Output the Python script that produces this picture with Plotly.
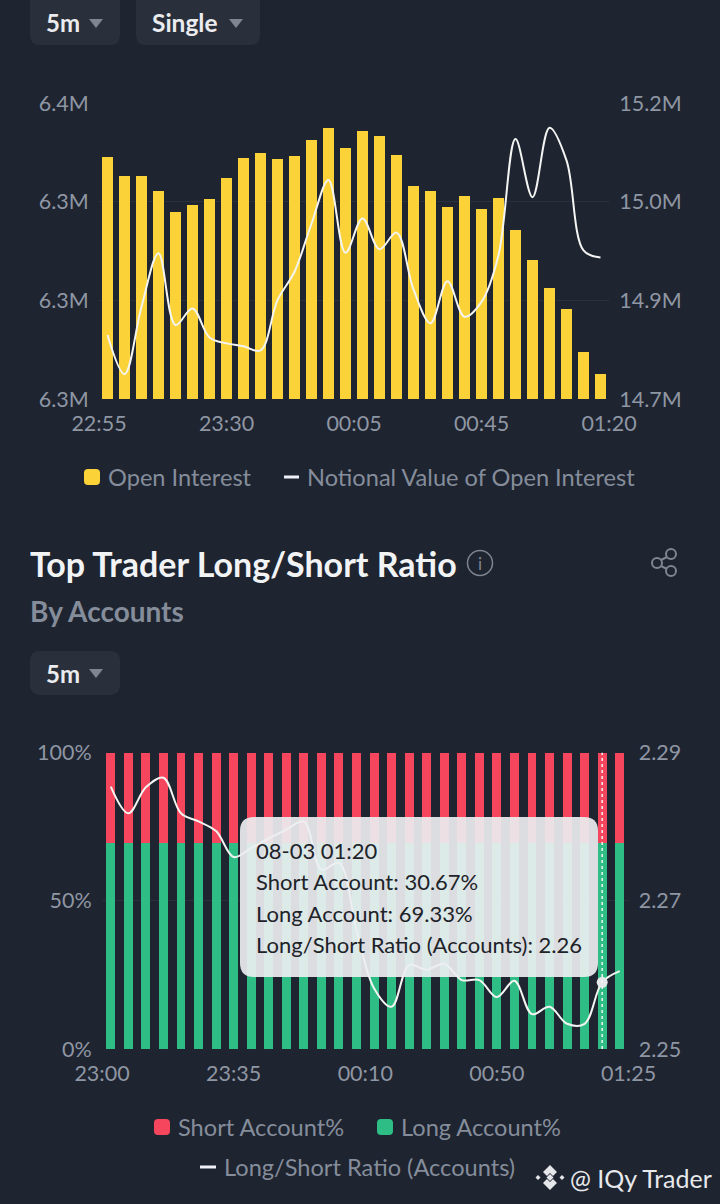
import plotly.graph_objects as go

# Open Interest chart
oi_ticks = ["22:55", "23:30", "00:05", "00:45", "01:20"]
oi_tick_pos = [-0.5, 7, 14.5, 22, 29.5]
open_interest = [6.3437, 6.3379, 6.3377, 6.3332, 6.3268, 6.3291, 6.3309, 6.3373, 6.3432, 6.3449,
                 6.3430, 6.3440, 6.3489, 6.3524, 6.3462, 6.3515, 6.3499, 6.3441, 6.3348, 6.3331,
                 6.3285, 6.3316, 6.3277, 6.3311, 6.3215, 6.3124, 6.3038, 6.2975, 6.2842, 6.2775]
notional = [14.808, 14.742, 14.856, 14.946, 14.825, 14.853, 14.804, 14.794, 14.789, 14.782,
            14.867, 14.915, 14.996, 15.070, 14.947, 15.005, 14.953, 14.981, 14.885, 14.828,
            14.899, 14.839, 14.864, 14.943, 15.139, 15.041, 15.158, 15.103, 14.951, 14.939]
oi_left_ticks = [6.27, 6.30, 6.33, 6.36]
oi_left_text = ["6.3M", "6.3M", "6.3M", "6.4M"]
oi_right_ticks = [14.7, 14.867, 15.033, 15.2]
oi_right_text = ["14.7M", "14.9M", "15.0M", "15.2M"]

# Top trader ratio chart
ls_ticks = ["23:00", "23:35", "00:10", "00:50", "01:25"]
ls_tick_pos = [-0.5, 7, 14.5, 22, 29.5]
long_pct = [69.4] * 28 + [69.33, 69.33]
short_pct = [30.6] * 28 + [30.67, 30.67]
ratio = [2.2854, 2.2818, 2.2853, 2.2866, 2.2818, 2.2807, 2.2794, 2.2759, 2.2771, 2.2784,
         2.2796, 2.2807, 2.2742, 2.2751, 2.2661, 2.2582, 2.2557, 2.2613, 2.2607, 2.2615,
         2.2593, 2.2593, 2.2570, 2.2592, 2.2547, 2.2557, 2.2534, 2.2534, 2.2590, 2.2605]
pct_ticks = [0, 50, 100]
pct_text = ["0%", "50%", "100%"]
ratio_ticks = [2.25, 2.27, 2.29]
ratio_text = ["2.25", "2.27", "2.29"]
hover_idx = 28
tooltip_lines = ["08-03 01:20", "Short Account: 30.67%", "Long Account: 69.33%",
                 "Long/Short Ratio (Accounts): 2.26"]

BG = "#1E2430"
BTN = "#2A303B"
GRID = "#2B313C"
TICK = "#8F96A3"
LEG = "#858D9B"
YELLOW = "#FBD338"
RED = "#F6465D"
GREEN = "#2EBD85"
LINE = "#F4F5F2"
FONT = "Lato"

W, H = 720, 1204


def px(x):
    return x / W


def py(y):
    return 1 - y / H


def rrect(x0, y0, x1, y1, r):
    # rounded box, pixel values turned into paper fractions
    pts = [("M", x0 + r, y0), ("L", x1 - r, y0), ("Q", x1, y0, x1, y0 + r), ("L", x1, y1 - r),
           ("Q", x1, y1, x1 - r, y1), ("L", x0 + r, y1), ("Q", x0, y1, x0, y1 - r),
           ("L", x0, y0 + r), ("Q", x0, y0, x0 + r, y0)]
    out = ""
    for p in pts:
        coords = p[1:]
        txt = [f"{px(coords[i]):.5f},{py(coords[i + 1]):.5f}" for i in range(0, len(coords), 2)]
        out += p[0] + " ".join(txt) + " "
    return out + "Z"


def poly(points):
    return "M" + " L".join(f"{px(a):.5f},{py(b):.5f}" for a, b in points) + " Z"


fig = go.Figure()

idx = list(range(len(open_interest)))

fig.add_trace(go.Bar(x=idx, y=open_interest, width=0.63, marker=dict(color=YELLOW, line_width=0),
                     xaxis="x", yaxis="y", showlegend=False))
fig.add_trace(go.Scatter(x=idx, y=notional, mode="lines", xaxis="x", yaxis="y2", showlegend=False,
                         line=dict(color=LINE, width=2, shape="spline", smoothing=1)))

fig.add_trace(go.Bar(x=idx, y=long_pct, width=0.51, marker=dict(color=GREEN, line_width=0),
                     xaxis="x2", yaxis="y3", showlegend=False))
fig.add_trace(go.Bar(x=idx, y=short_pct, width=0.51, marker=dict(color=RED, line_width=0),
                     xaxis="x2", yaxis="y3", showlegend=False))
fig.add_trace(go.Scatter(x=idx, y=ratio, mode="lines", xaxis="x2", yaxis="y4", showlegend=False,
                         line=dict(color=LINE, width=2, shape="spline", smoothing=1)))
fig.add_trace(go.Scatter(x=[hover_idx], y=[ratio[hover_idx]], mode="markers", xaxis="x2", yaxis="y4",
                         showlegend=False, marker=dict(color="#E6E9EC", size=11)))

axis_font = dict(family=FONT, size=21.5, color=TICK)


def x_axis(domain, anchor, vals, labels):
    return dict(domain=domain, anchor=anchor, range=[-0.5, 29.5], tickmode="array", tickvals=vals,
                ticktext=labels, tickfont=axis_font, showgrid=False, zeroline=False, showline=False,
                ticks="outside", ticklen=5, tickcolor="rgba(0,0,0,0)", fixedrange=True, automargin=False)


def y_axis(domain, rng, vals, labels, **kw):
    return dict(domain=domain, range=rng, tickmode="array", tickvals=vals, ticktext=labels,
                tickfont=axis_font, zeroline=False, showline=False, ticks="outside", ticklen=5,
                tickcolor="rgba(0,0,0,0)", gridcolor=GRID, gridwidth=1, fixedrange=True,
                automargin=False, **kw)


fig.update_layout(
    width=W, height=H, margin=dict(l=0, r=0, t=0, b=0), paper_bgcolor=BG, plot_bgcolor=BG,
    barmode="stack", showlegend=False, font=dict(family=FONT),
    xaxis=x_axis([px(99), px(609)], "y", oi_tick_pos, oi_ticks),
    yaxis=y_axis([py(399), py(103)], [6.27, 6.36], oi_left_ticks, oi_left_text),
    yaxis2=y_axis([py(399), py(103)], [14.7, 15.2], oi_right_ticks, oi_right_text,
                  overlaying="y", side="right", anchor="x", showgrid=False),
    xaxis2=x_axis([px(102), px(628.5)], "y3", ls_tick_pos, ls_ticks),
    yaxis3=y_axis([py(1049), py(752.5)], [0, 100], pct_ticks, pct_text, anchor="x2"),
    yaxis4=y_axis([py(1049), py(752.5)], [2.25, 2.29], ratio_ticks, ratio_text,
                  overlaying="y3", side="right", anchor="x2", showgrid=False),
)

shapes = []


def box(x0, y0, x1, y1, r, color):
    shapes.append(dict(type="path", path=rrect(x0, y0, x1, y1, r), xref="paper", yref="paper",
                       fillcolor=color, line_width=0, layer="above"))


def tri(points, color):
    shapes.append(dict(type="path", path=poly(points), xref="paper", yref="paper",
                       fillcolor=color, line_width=0, layer="above"))


def seg(x0, y0, x1, y1, color, w):
    shapes.append(dict(type="line", x0=px(x0), y0=py(y0), x1=px(x1), y1=py(y1), xref="paper", yref="paper",
                       line=dict(color=color, width=w), layer="above"))


def ring(cx, cy, r, color, w):
    shapes.append(dict(type="circle", x0=px(cx - r), x1=px(cx + r), y0=py(cy - r), y1=py(cy + r),
                       xref="paper", yref="paper", line=dict(color=color, width=w), layer="above"))


def text(x, y, s, size, color, anchor="left", weight=400):
    fig.add_annotation(x=px(x), y=py(y), xref="paper", yref="paper", text=s, showarrow=False,
                       xanchor=anchor, yanchor="middle", borderpad=0, borderwidth=0,
                       font=dict(family=FONT, size=size, color=color, weight=weight))


# buttons
box(30, -10, 120, 45, 10, BTN)
box(136, -10, 260, 45, 10, BTN)
box(30, 651, 120, 695, 10, BTN)
tri([(89, 19), (103, 19), (96, 28)], "#7F8591")
tri([(229, 19), (243, 19), (236, 28)], "#7F8591")
tri([(89, 669), (103, 669), (96, 678)], "#7F8591")
text(46, 23, "5m", 24, "#EAECEF", weight=700)
text(152, 23, "Single", 24.5, "#EAECEF", weight=700)
text(46, 673, "5m", 24, "#EAECEF", weight=700)

# top legend
box(84, 469, 100, 485, 4, YELLOW)
text(108, 477, "Open Interest", 23.6, LEG)
seg(284, 477, 299, 477, "#F0F1F8", 3)
text(307, 477, "Notional Value of Open Interest", 23.6, LEG)

# heading of second chart
text(30, 563, "Top Trader Long/Short Ratio", 34, "#F2F3F5", weight=700)
text(30, 611, "By Accounts", 28, LEG, weight=700)
ring(480, 563, 12.5, "#7F8591", 1.5)
text(480, 563, "i", 17, "#7F8591", anchor="center")
ring(671, 554, 5, "#7F8591", 2)
ring(657, 563, 5, "#7F8591", 2)
ring(671, 571, 5, "#7F8591", 2)
seg(661, 560, 667, 557, "#7F8591", 2)
seg(661, 566, 667, 569, "#7F8591", 2)

# hover line and tooltip
shapes.append(dict(type="line", x0=hover_idx, x1=hover_idx, y0=0, y1=100, xref="x2", yref="y3",
                   line=dict(color="#F4F5F2", width=1.5, dash="3px,3px"), layer="above"))
box(240, 817, 598, 977, 14, "rgba(235,238,241,0.92)")
for y, s in zip([850, 881, 913, 945], tooltip_lines):
    text(256, y, s, 22, "#1E2329")

# bottom legend
box(154, 1119, 170, 1135, 4, RED)
text(178, 1127, "Short Account%", 23.6, LEG)
box(377, 1119, 393, 1135, 4, GREEN)
text(401, 1127, "Long Account%", 23.6, LEG)
seg(200, 1167, 216, 1167, "#F0F1F8", 3)
text(224, 1167, "Long/Short Ratio (Accounts)", 23.6, LEG)

# watermark
logo = "#E4E6EA"
tri([(550, 1165), (557, 1172), (553, 1176), (550, 1173), (547, 1176), (543, 1172)], logo)
tri([(550, 1190), (557, 1183), (553, 1179), (550, 1182), (547, 1179), (543, 1183)], logo)
tri([(550, 1174), (553.5, 1177.5), (550, 1181), (546.5, 1177.5)], logo)
tri([(538, 1175), (540.5, 1177.5), (538, 1180), (535.5, 1177.5)], logo)
tri([(562, 1175), (564.5, 1177.5), (562, 1180), (559.5, 1177.5)], logo)
text(570, 1178, "@ IQy Trader", 25, "#E8E9EC")

fig.update_layout(shapes=shapes)

fig.write_html("out.html", config=dict(displayModeBar=False),
               post_script="document.body.style.margin='0';document.body.style.background='" + BG + "';")
